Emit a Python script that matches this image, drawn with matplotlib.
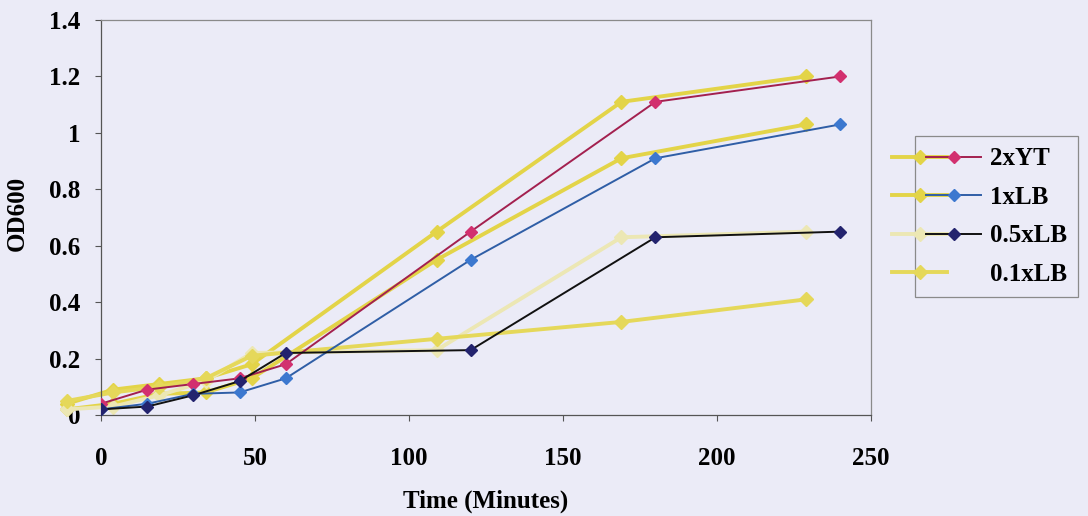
import matplotlib
matplotlib.use('Agg')
import matplotlib.pyplot as plt
from matplotlib.lines import Line2D
from matplotlib.legend_handler import HandlerLine2D
from matplotlib.transforms import ScaledTranslation

# Growth curves: OD600 readings over time
time = [0, 15, 30, 45, 60, 120, 180, 240]
od_2xyt = [0.04, 0.09, 0.11, 0.13, 0.18, 0.65, 1.11, 1.20]
od_1xlb = [0.02, 0.04, 0.075, 0.08, 0.13, 0.55, 0.91, 1.03]
od_05xlb = [0.02, 0.03, 0.07, 0.12, 0.22, 0.23, 0.63, 0.65]
od_01xlb = [0.05, 0.08, 0.10, 0.13, 0.21, 0.27, 0.33, 0.41]
labels = ['2xYT', '1xLB', '0.5xLB', '0.1xLB']

plt.rcParams['font.family'] = ['Liberation Serif', 'DejaVu Serif']
plt.rcParams['font.weight'] = 'bold'

bg = '#ebebf7'
fig = plt.figure(figsize=(10.88, 5.16), dpi=100, facecolor=bg)
ax = fig.add_axes([0.0928, 0.1957, 0.7078, 0.7655], facecolor=bg)

# yellow layer of the print sits ~34 px to the left of the other inks
shift = ScaledTranslation(-0.34, 0, fig.dpi_scale_trans)
ghost = ax.transData + shift

series = [od_2xyt, od_1xlb, od_05xlb, od_01xlb]
line_cols = ['#a3204f', '#2f5ea6', '#111111', None]
mark_cols = ['#d2306f', '#3c78cf', '#23236e', None]
ghost_cols = ['#e3d448', '#e3d448', '#ece7b4', '#e5d85a']

for vals, gc in zip(series, ghost_cols):
    ax.plot(time, vals, color=gc, lw=2.8, marker='D', ms=7.5,
            markeredgecolor=gc, transform=ghost, zorder=2, clip_on=False)

for vals, lc, mc in zip(series, line_cols, mark_cols):
    if lc is None:
        continue
    ax.plot(time, vals, color=lc, lw=1.4, marker='D', ms=6.5,
            markerfacecolor=mc, markeredgecolor=mc, zorder=3)

ax.set_xlim(0, 250)
ax.set_ylim(0, 1.4)
ax.set_xticks([0, 50, 100, 150, 200, 250])
ax.set_yticks([0, 0.2, 0.4, 0.6, 0.8, 1, 1.2, 1.4])
ax.set_yticklabels(['0', '0.2', '0.4', '0.6', '0.8', '1', '1.2', '1.4'])
ax.tick_params(axis='both', direction='out', length=4.5, width=0.8,
               color='#555555', labelsize=18)
ax.tick_params(axis='y', pad=10.5)
ax.tick_params(axis='x', pad=18.5)
for side in ['top', 'right']:
    ax.spines[side].set_color('#8a8a8a')
    ax.spines[side].set_linewidth(0.9)
for side in ['left', 'bottom']:
    ax.spines[side].set_color('#555555')
    ax.spines[side].set_linewidth(0.9)

ax.set_xlabel('Time (Minutes)', fontsize=18, fontweight='bold')
ax.set_ylabel('OD600', fontsize=18, fontweight='bold')
ax.xaxis.set_label_coords(0.5, -0.19)
ax.yaxis.set_label_coords(-0.094, 0.51)


class PairHandler(HandlerLine2D):
    # draws the shifted yellow copy of an entry next to the coloured one
    def create_artists(self, legend, orig_handle, xdescent, ydescent,
                       width, height, fontsize, trans):
        real, faint = orig_handle
        base = HandlerLine2D()
        arts = base.create_artists(legend, faint, xdescent, ydescent,
                                   width, height, fontsize, trans + shift)
        arts += base.create_artists(legend, real, xdescent, ydescent,
                                    width, height, fontsize, trans)
        return arts


handles = []
for lc, mc, gc in zip(line_cols, mark_cols, ghost_cols):
    if lc is None:
        real = Line2D([], [], color='none')
    else:
        real = Line2D([], [], color=lc, lw=1.4, marker='D', ms=6.5,
                      markerfacecolor=mc, markeredgecolor=mc)
    faint = Line2D([], [], color=gc, lw=2.8, marker='D', ms=7.5,
                   markeredgecolor=gc)
    handles.append((real, faint))

leg = fig.legend(handles, labels, loc='upper left',
                 bbox_to_anchor=(915 / 1088, 1 - 136 / 516),
                 handler_map={tuple: PairHandler()}, fontsize=18,
                 handlelength=2.2, handletextpad=0.35, labelspacing=0.62,
                 borderpad=0.45, borderaxespad=0, fancybox=False,
                 facecolor=bg, edgecolor='#8a8a8a', framealpha=1)
leg.get_frame().set_linewidth(0.9)

plt.savefig('out.png', dpi=100, facecolor=bg)
